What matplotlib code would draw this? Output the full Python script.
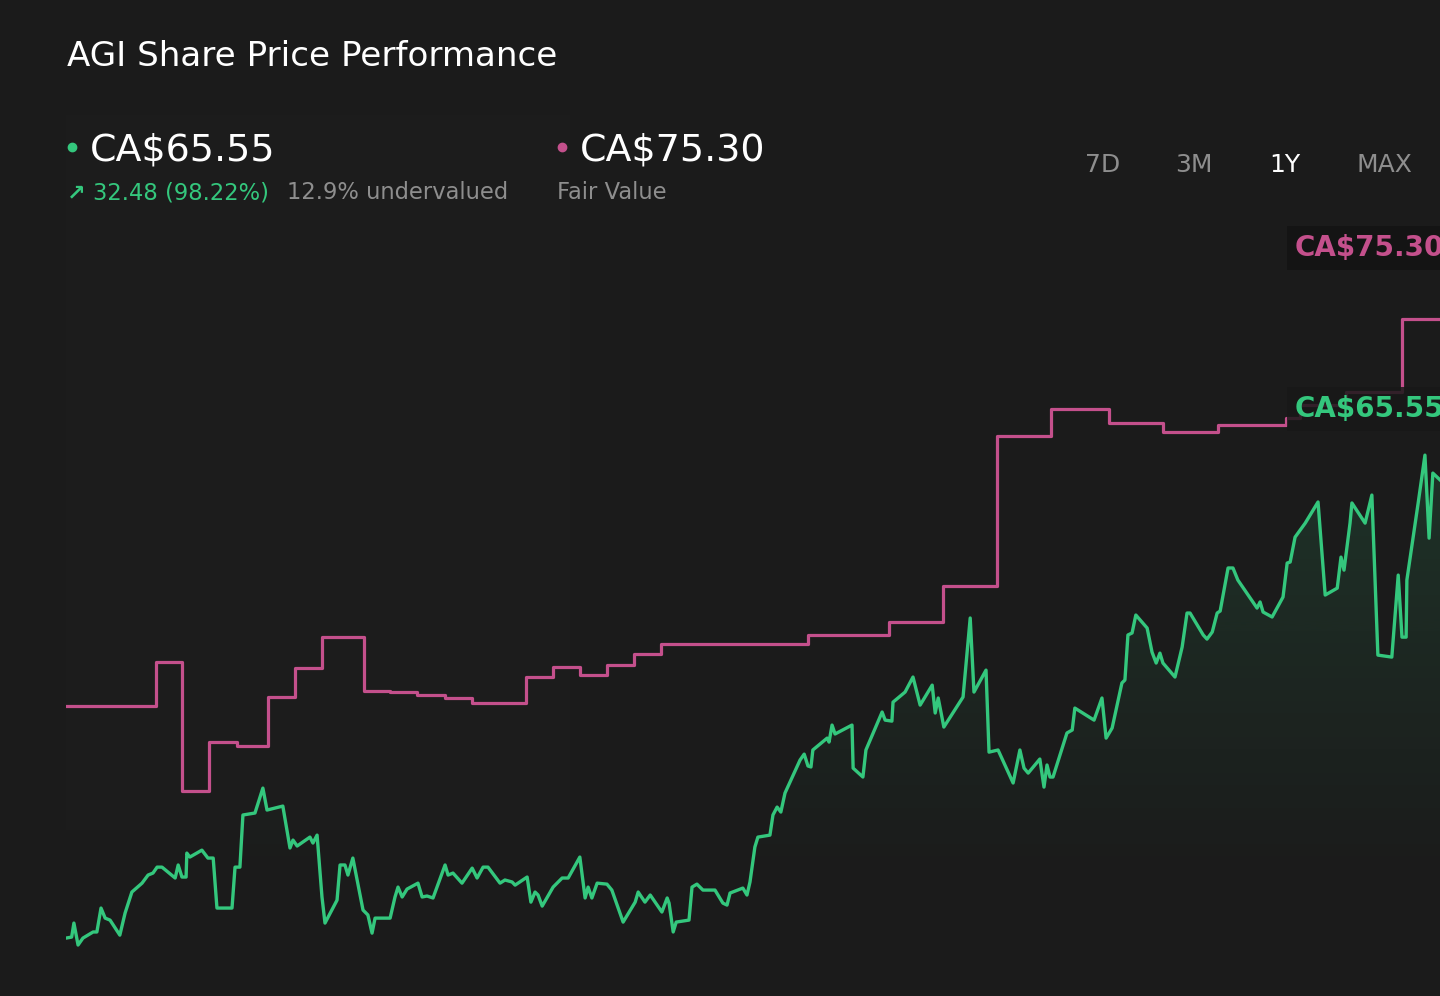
import numpy as np
import matplotlib
matplotlib.use("Agg")
import matplotlib.pyplot as plt
from matplotlib.colors import to_rgb
from matplotlib.lines import Line2D
from matplotlib.patches import Rectangle

# --- data (1 year window, x in days) ---
price_days = [0.0, 1.5, 2.1, 3.2, 4.5, 7.2, 8.2, 9.3, 10.4, 11.7, 14.3, 15.7, 17.5, 20.2, 21.8,
              23.1, 24.2, 25.5, 29.0, 29.8, 30.8, 31.9, 32.1, 32.9, 36.1, 37.7, 39.1, 40.1, 44.1,
              44.9, 46.2, 47.0, 50.2, 52.3, 53.4, 57.6, 59.5, 60.3, 61.4, 64.8, 65.6, 66.7, 68.0,
              68.8, 72.0, 72.8, 74.1, 74.9, 76.2, 78.9, 80.2, 81.3, 82.1, 86.1, 87.4, 88.2, 89.3,
              90.6, 93.5, 94.6, 95.9, 97.5, 100.7, 101.5, 102.8, 105.2, 107.9, 109.2, 110.8, 112.1,
              115.3, 116.6, 118.5, 119.3, 122.5, 123.5, 124.6, 125.4, 126.5, 129.4, 131.8, 133.4,
              136.5, 137.9, 138.7, 139.7, 141.1, 143.7, 145.0, 148.0, 151.2, 152.0, 153.8, 155.2,
              158.3, 159.7, 160.2, 161.3, 162.1, 165.5, 166.3, 167.6, 169.2, 172.4, 174.5, 175.6,
              176.4, 179.8, 180.9, 181.7, 183.0, 183.8, 187.0, 187.8, 188.9, 189.9, 191.0, 195.0,
              196.1, 197.1, 197.9, 198.4, 202.2, 202.7, 203.5, 204.3, 208.8, 209.1, 211.7, 212.5,
              216.8, 217.6, 219.4, 219.7, 222.9, 225.0, 226.9, 230.1, 230.9, 231.7, 233.2, 238.3,
              240.2, 241.2, 244.4, 245.2, 247.6, 251.6, 253.4, 254.5, 255.6, 258.7, 259.8, 260.6,
              261.4, 262.2, 265.9, 267.3, 268.0, 273.1, 275.2, 276.3, 277.9, 280.5, 281.3, 282.1,
              283.2, 284.2, 287.2, 288.5, 289.6, 290.6, 291.4, 294.6, 296.5, 297.8, 298.6, 302.1,
              303.1, 304.5, 305.8, 306.6, 308.7, 310.0, 311.3, 316.4, 317.2, 318.0, 320.4, 323.3,
              324.4, 325.2, 326.5, 329.2, 332.6, 334.5, 337.7, 338.7, 339.5, 341.1, 341.6, 345.1,
              346.9, 348.5, 352.2, 353.9, 354.9, 356.0, 356.2, 359.2, 361.0, 362.1, 363.1, 365.0]
price = [37.78, 37.84, 38.69, 37.36, 37.78, 38.15, 38.15, 39.60, 38.99, 38.87, 37.96, 39.30, 40.57,
         41.11, 41.60, 41.72, 42.08, 42.08, 41.42, 42.21, 41.48, 41.48, 42.93, 42.69, 43.11, 42.63,
         42.63, 39.60, 39.60, 42.08, 42.08, 45.24, 45.36, 46.87, 45.54, 45.78, 43.24, 43.72, 43.36,
         43.90, 43.54, 44.02, 40.27, 38.69, 40.08, 42.21, 42.21, 41.60, 42.63, 39.48, 39.18, 38.08,
         38.99, 38.99, 40.27, 40.87, 40.27, 40.75, 41.11, 40.27, 40.33, 40.21, 42.21, 41.60, 41.72,
         41.11, 42.02, 41.42, 42.08, 42.08, 41.11, 41.30, 41.18, 40.99, 41.48, 39.96, 40.57, 40.39,
         39.72, 40.87, 41.42, 41.42, 42.69, 40.21, 40.87, 40.21, 41.11, 41.05, 40.69, 38.75, 39.96,
         40.57, 39.96, 40.39, 39.36, 40.21, 39.90, 38.15, 38.75, 38.87, 40.87, 41.05, 40.69, 40.69,
         39.90, 39.78, 40.51, 40.81, 40.39, 41.18, 43.30, 43.90, 44.02, 45.24, 45.72, 45.42, 46.57,
         48.57, 48.93, 48.21, 48.15, 49.18, 49.90, 49.66, 50.69, 50.15, 50.69, 48.08, 47.54, 49.18,
         51.48, 50.99, 50.93, 52.08, 52.69, 53.60, 51.90, 53.11, 51.42, 52.33, 50.57, 52.39, 57.18,
         52.69, 54.02, 49.05, 49.18, 47.18, 49.18, 48.08, 47.78, 48.63, 46.93, 48.27, 47.54, 47.54,
         50.21, 50.39, 51.72, 50.99, 52.33, 49.90, 50.51, 53.24, 53.42, 56.15, 56.27, 57.36, 56.57,
         55.11, 54.45, 55.05, 54.45, 53.60, 55.42, 57.48, 57.48, 56.15, 55.90, 56.33, 57.48, 57.60,
         60.21, 60.21, 59.48, 57.78, 58.15, 57.54, 57.24, 58.45, 60.51, 60.57, 62.08, 62.93, 64.21,
         58.57, 58.99, 60.87, 60.08, 62.93, 64.15, 62.93, 64.63, 54.93, 54.81, 59.78, 56.02, 56.02,
         59.48, 64.15, 67.05, 62.02, 65.96, 65.55]

fv_days = [0.0, 23.8, 30.9, 38.0, 45.4, 53.7, 60.8, 68.0, 79.2, 86.1, 93.2, 100.7, 107.9, 122.2,
           129.4, 136.5, 143.7, 150.9, 158.1, 197.1, 218.6, 233.0, 247.3, 261.7, 277.1, 291.4,
           306.0, 324.1, 327.8, 340.0, 354.9, 365.0]
fair_value = [51.85, 54.51, 46.69, 49.66, 49.42, 52.39, 54.15, 56.02, 52.75, 52.69, 52.51, 52.33,
              52.02, 53.60, 54.21, 53.72, 54.33, 54.99, 55.60, 56.15, 56.93, 59.11, 68.21, 69.84,
              68.99, 68.45, 68.87, 69.30, 70.08, 70.87, 75.30, 75.30]

ticker = "AGI"
last_price = 65.55
fair_now = 75.30
change_abs = 32.48
change_pct = 98.22
undervalued_pct = 12.9
periods = ["7D", "3M", "1Y", "MAX"]
active_period = "1Y"

BG = "#1b1b1b"
GREEN = "#34c77d"
PINK = "#c4508c"
GREY = "#8e8e8e"

W, H = 1440, 996
fig = plt.figure(figsize=(W / 100, H / 100), dpi=100, facecolor=BG)


def fx(px):
    return px / W


def fy(py):
    return 1 - py / H


# barely visible panel behind the header / left of the chart
fig.add_artist(Rectangle((fx(66), fy(830)), fx(570) - fx(66), fy(115) - fy(830),
                         transform=fig.transFigure, facecolor="#1c1c1c", edgecolor="none", zorder=-1))

ax = fig.add_axes([fx(66), 0, 1 - fx(66), 1 - 220 / H])
ax.axis("off")

ymin, ymax = 34.27, 81.30

# gradient under the price line
gy = np.linspace(ymin, ymax, 400)
alpha = np.clip((gy - 41.3) / (67.0 - 41.3), 0, 1) * 0.14
rgba = np.zeros((400, 1, 4))
rgba[..., :3] = to_rgb(GREEN)
rgba[:, 0, 3] = alpha
im = ax.imshow(rgba, extent=[0, 365, ymin, ymax], origin="lower", aspect="auto", zorder=1)
area = ax.fill_between(price_days, price, ymin, facecolor="none", edgecolor="none")
im.set_clip_path(area.get_paths()[0], transform=ax.transData)

ax.step(fv_days, fair_value, where="post", color=PINK, lw=2.3, zorder=2)
ax.plot(price_days, price, color=GREEN, lw=2.4, zorder=3)
ax.set_xlim(0, 365)
ax.set_ylim(ymin, ymax)

# header
fig.text(fx(67), fy(66), f"{ticker} Share Price Performance", color="white", fontsize=24.6, va="baseline")

fig.add_artist(Line2D([fx(72)], [fy(147)], marker="o", ms=6, color=GREEN, transform=fig.transFigure))
fig.text(fx(90), fy(161), f"CA${last_price:.2f}", color="white", fontsize=27.4, va="baseline")
fig.text(fx(67), fy(199), "\u2197", color=GREEN, fontsize=16, fontweight="bold", va="baseline")
fig.text(fx(93), fy(199), f"{change_abs:.2f} ({change_pct:.2f}%)", color=GREEN, fontsize=16.3, va="baseline")
fig.text(fx(287), fy(199), f"{undervalued_pct}% undervalued", color=GREY, fontsize=16.3, va="baseline")

fig.add_artist(Line2D([fx(562)], [fy(147)], marker="o", ms=6, color=PINK, transform=fig.transFigure))
fig.text(fx(580), fy(161), f"CA${fair_now:.2f}", color="white", fontsize=27.4, va="baseline")
fig.text(fx(557), fy(199), "Fair Value", color=GREY, fontsize=16.3, va="baseline")

for label, cx in zip(periods, [1103, 1194, 1285, 1384]):
    fig.text(fx(cx), fy(172), label, color="white" if label == active_period else GREY,
             fontsize=18, ha="center", va="baseline")

# value tags on the right
fig.text(fx(1295), fy(256), f"CA${fair_now:.2f}", color=PINK, fontsize=20, fontweight="bold",
         va="baseline", zorder=5,
         bbox=dict(boxstyle="square,pad=0.3", fc="#141414", ec="none"))
fig.text(fx(1295), fy(417), f"CA${last_price:.2f}", color=GREEN, fontsize=20, fontweight="bold",
         va="baseline", zorder=5,
         bbox=dict(boxstyle="square,pad=0.3", fc="#181818", ec="none", alpha=0.85))

fig.savefig("out.png", dpi=100, facecolor=BG)
